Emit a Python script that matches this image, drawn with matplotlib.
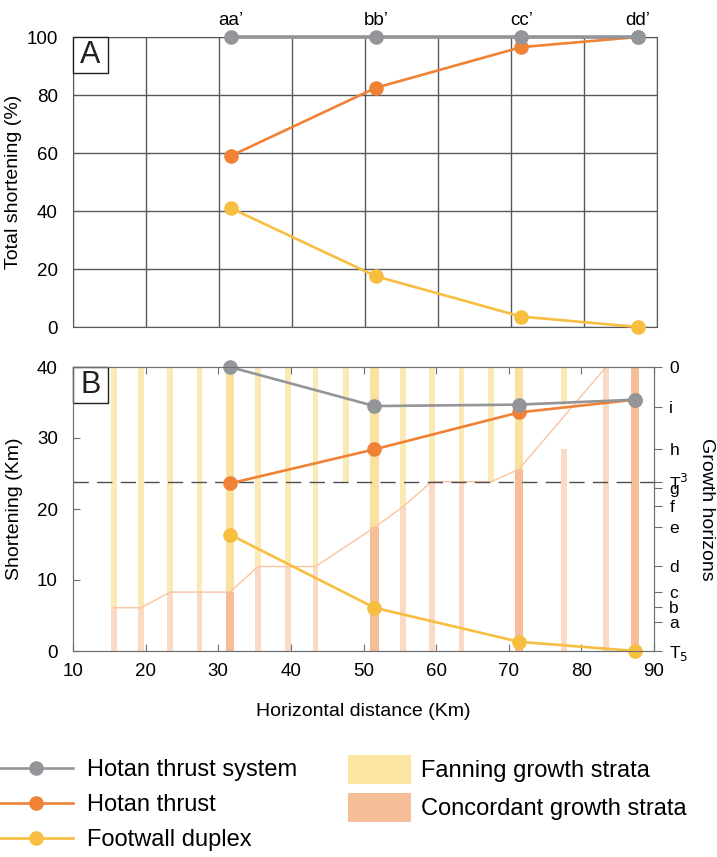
import numpy as np
import matplotlib
matplotlib.use('Agg')
import matplotlib.pyplot as plt
from matplotlib.lines import Line2D
from matplotlib.patches import Patch, Rectangle

plt.rcParams['font.family'] = ['Liberation Sans', 'DejaVu Sans']

# section positions (km) and names
section_x = [31.6, 51.5, 71.4, 87.4]
section_names = ['aa\u2019', 'bb\u2019', 'cc\u2019', 'dd\u2019']

# panel A: percent of total shortening
system_pct = [100, 100, 100, 100]
thrust_pct = [59, 82.5, 96.5, 100]
duplex_pct = [41, 17.5, 3.6, 0]

# panel B: shortening (km)
system_km = [40, 34.5, 34.7, 35.4]
thrust_km = [23.6, 28.4, 33.6, 35.4]
duplex_km = [16.4, 6.1, 1.3, 0]

# growth strata columns
strata_x = [15.6, 19.4, 23.4, 27.4, 31.6, 35.5, 39.6, 43.4, 47.6, 51.5,
            55.4, 59.4, 63.5, 67.6, 71.4, 77.6, 83.4, 87.4]
fanning_bottom = [6.1, 6.1, 8.3, 8.3, 8.3, 11.9, 11.9, 11.9, 23.85, 17.4,
                  20.3, 23.85, 23.85, 23.85, 25.6, 34.7, 40, 40]
concordant_top = [6.1, 6.1, 8.3, 8.3, 8.3, 11.9, 11.9, 11.9, 0, 17.4,
                  20.3, 23.85, 23.85, 0, 25.6, 28.5, 40, 40]
is_section = [x in section_x for x in strata_x]

# concordant envelope line
env_x = [15.6, 19.4, 23.4, 31.6, 35.5, 43.4, 51.5, 55.4, 59.4, 67.6, 71.4, 83.4]
env_y = [6.1, 6.1, 8.3, 8.3, 11.9, 11.9, 17.4, 20.3, 23.85, 23.85, 25.6, 40]

# growth horizons (right axis)
horizon_km = [40, 34.35, 28.45, 23.85, 22.9, 20.4, 17.4, 11.95, 8.35, 6.15, 4.05, 0]
horizon_labels = ['0', 'i', 'h', r'T$^3$', 'g', 'f', 'e', 'd', 'c', 'b', 'a', r'T$_5$']
t3_km = 23.85

grey = '#939598'
orange = '#f08236'
yellow = '#f8be3f'
fan_light, fan_dark = '#fbe9b6', '#f9e2a0'
con_light, con_dark = '#fad9c5', '#f6bd99'
spine_c = '#6d6e71'

fig = plt.figure(figsize=(7.17, 8.57), dpi=100)
W, H = 717, 857
axA = fig.add_axes([73 / W, 1 - 327 / H, 584 / W, 290 / H])
axB = fig.add_axes([73 / W, 1 - 651 / H, 581 / W, 284 / H])

lw, ms = 1.9, 9.5
tick_fs, lab_fs = 13.5, 14


def panel_letter(ax, letter):
    bw = 35 / (ax.get_position().width * W)
    bh = 36 / (ax.get_position().height * H)
    ax.add_patch(Rectangle((0, 1 - bh), bw, bh, transform=ax.transAxes, fc='white',
                           ec='#231f20', lw=1, clip_on=False, zorder=6))
    ax.text(bw / 2, 1 - bh / 2, letter, transform=ax.transAxes, fontsize=22,
            ha='center', va='center', color='#231f20', zorder=7)


# ---- panel A
axA.set_xlim(10, 90)
axA.set_ylim(0, 100)
axA.set_xticks(np.arange(10, 91, 10))
axA.set_yticks(np.arange(0, 101, 20))
axA.grid(True, color='#58595b', lw=1)
axA.tick_params(length=0, labelbottom=False, labelsize=tick_fs, pad=11)
for s in axA.spines.values():
    s.set_color('#58595b')
axA.plot(section_x, system_pct, color=grey, lw=2.6, marker='o', ms=ms, clip_on=False, zorder=5)
axA.plot(section_x, thrust_pct, color=orange, lw=lw, marker='o', ms=ms, clip_on=False, zorder=4)
axA.plot(section_x, duplex_pct, color=yellow, lw=lw, marker='o', ms=ms, clip_on=False, zorder=4)
axA.set_ylabel('Total shortening (%)', fontsize=lab_fs, labelpad=3)
top = axA.secondary_xaxis('top')
top.set_xticks(section_x)
top.set_xticklabels(section_names)
top.tick_params(length=0, labelsize=tick_fs, pad=6)
top.spines['top'].set_visible(False)
panel_letter(axA, 'A')

# ---- panel B
axB.set_xlim(10, 90)
axB.set_ylim(0, 40)
for x, fb, ct, sec in zip(strata_x, fanning_bottom, concordant_top, is_section):
    w = 1.15 if sec else 0.78
    if fb < 40:
        axB.bar(x, 40 - fb, bottom=fb, width=w, color=fan_dark if sec else fan_light, lw=0, zorder=1)
    if ct > 0:
        axB.bar(x, ct, width=w, color=con_dark if sec else con_light, lw=0, zorder=1)
axB.plot(env_x, env_y, color='#f9c4a0', lw=1, zorder=2)
axB.axhline(t3_km, xmin=0, xmax=1.012, color='#4d4d4f', lw=1, dashes=(11, 6), clip_on=False, zorder=2)
axB.plot(section_x, system_km, color=grey, lw=lw, marker='o', ms=ms, clip_on=False, zorder=5)
axB.plot(section_x, thrust_km, color=orange, lw=lw, marker='o', ms=ms, clip_on=False, zorder=4)
axB.plot(section_x, duplex_km, color=yellow, lw=lw, marker='o', ms=ms, clip_on=False, zorder=4)
axB.set_xticks(np.arange(10, 91, 10))
axB.set_yticks(np.arange(0, 41, 10))
axB.tick_params(axis='y', direction='in', length=5, color=spine_c, labelsize=tick_fs, pad=11)
axB.tick_params(axis='x', direction='in', top=True, length=5, color=spine_c, labelsize=tick_fs, pad=9)
for s in axB.spines.values():
    s.set_color(spine_c)
axB.set_xlabel('Horizontal distance (Km)', fontsize=lab_fs, labelpad=16)
axB.set_ylabel('Shortening (Km)', fontsize=lab_fs, labelpad=10)
panel_letter(axB, 'B')

axR = axB.twinx()
axR.set_ylim(0, 40)
axR.set_yticks(horizon_km)
axR.set_yticklabels(horizon_labels)
axR.tick_params(direction='out', length=6, color=spine_c, labelsize=12.5, pad=5)
for s in axR.spines.values():
    s.set_color(spine_c)
axR.set_ylabel('Growth horizons', fontsize=lab_fs, rotation=270, labelpad=19)

# ---- legends
leg_fs = 17
line_handles = [Line2D([], [], color=c, lw=lw, marker='o', ms=ms) for c in (grey, orange, yellow)]
fig.legend(line_handles, ['Hotan thrust system', 'Hotan thrust', 'Footwall duplex'],
           loc='upper left', bbox_to_anchor=(0.0, 1 - 759 / H), frameon=False, fontsize=leg_fs,
           handlelength=3.08, handletextpad=0.62, labelspacing=0.55, borderpad=0, borderaxespad=0)
patch_handles = [Patch(color='#fae6a2', lw=0), Patch(color='#f7bf98', lw=0)]
fig.legend(patch_handles, ['Fanning growth strata', 'Concordant growth strata'],
           loc='upper left', bbox_to_anchor=(348 / W, 1 - 755 / H), frameon=False, fontsize=leg_fs,
           handlelength=2.65, handleheight=1.5, handletextpad=0.43, labelspacing=0.38,
           borderpad=0, borderaxespad=0)

fig.savefig('out.png', dpi=100)
